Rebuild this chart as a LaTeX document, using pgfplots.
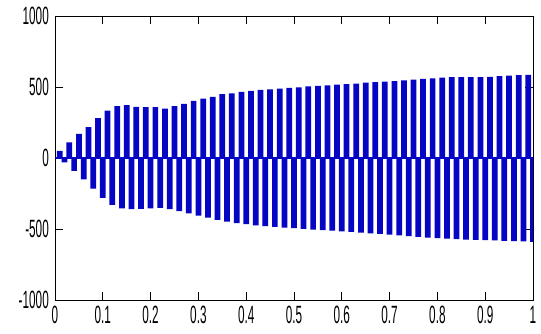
\documentclass[border=0pt]{standalone}
\usepackage{fontspec}
\usepackage{pgfplots}
\usepackage{pgfplotstable}
\pgfplotsset{compat=1.18}
\newfontfamily\tickfont[FakeStretch=0.47]{Liberation Sans}
\definecolor{sigblue}{RGB}{5,5,195}

\pgfplotstableread{
t v
0.01 50
0.03 110
0.05 170
0.07 218
0.09 280
0.11 333
0.13 365
0.15 372
0.17 360
0.19 358
0.21 358
0.23 348
0.25 365
0.27 382
0.29 403
0.31 418
0.33 430
0.35 450
0.37 455
0.39 465
0.41 472
0.43 480
0.45 483
0.47 488
0.49 493
0.51 497
0.53 505
0.55 508
0.57 512
0.59 516
0.61 521
0.63 524
0.65 530
0.67 534
0.69 538
0.71 541
0.73 546
0.75 552
0.77 557
0.79 560
0.81 566
0.83 569
0.85 570
0.87 570
0.89 570
0.91 572
0.93 577
0.95 580
0.97 583
0.99 586
}\upperbars

\pgfplotstableread{
t v
0.02 -30
0.04 -90
0.06 -150
0.08 -215
0.10 -280
0.12 -330
0.14 -355
0.16 -360
0.18 -358
0.20 -355
0.22 -352
0.24 -360
0.26 -375
0.28 -390
0.30 -405
0.32 -420
0.34 -435
0.36 -448
0.38 -458
0.40 -466
0.42 -474
0.44 -480
0.46 -485
0.48 -490
0.50 -494
0.52 -500
0.54 -505
0.56 -508
0.58 -512
0.60 -516
0.62 -520
0.64 -526
0.66 -530
0.68 -535
0.70 -540
0.72 -545
0.74 -550
0.76 -555
0.78 -560
0.80 -565
0.82 -568
0.84 -572
0.86 -574
0.88 -576
0.90 -578
0.92 -580
0.94 -583
0.96 -586
0.98 -588
1.00 -590
}\lowerbars

\begin{document}
\begin{tikzpicture}
\begin{axis}[
  scale only axis,
  width=478pt, height=284pt,
  xmin=0, xmax=1, ymin=-1000, ymax=1000,
  axis line style={black, line width=0.9pt},
  tick style={black, line width=0.8pt},
  tick align=inside,
  xtick pos=both, ytick pos=both,
  major tick length=8pt,
  xtick={0,0.1,0.2,0.3,0.4,0.5,0.6,0.7,0.8,0.9,1},
  xticklabels={0,0.1,0.2,0.3,0.4,0.5,0.6,0.7,0.8,0.9,1},
  ytick={-1000,-500,0,500,1000},
  yticklabels={-1000,-500,0,500,1000},
  tick label style={font=\fontsize{25}{25}\tickfont, inner sep=0pt},
  xticklabel style={yshift=-6pt},
  yticklabel style={xshift=-6pt},
  clip=true,
]
\addplot[ybar, bar width=0.012, bar shift=0pt, fill=sigblue, draw=none] table[x=t,y=v]{\upperbars};
\addplot[ybar, bar width=0.012, bar shift=0pt, fill=sigblue, draw=none] table[x=t,y=v]{\lowerbars};
\addplot[sigblue, line width=2.5pt] coordinates {(0,0) (1,0)};
\end{axis}
\path ([xshift=-55pt,yshift=-34pt]current axis.south west) rectangle ([xshift=8pt,yshift=16pt]current axis.north east);
\end{tikzpicture}
\end{document}
